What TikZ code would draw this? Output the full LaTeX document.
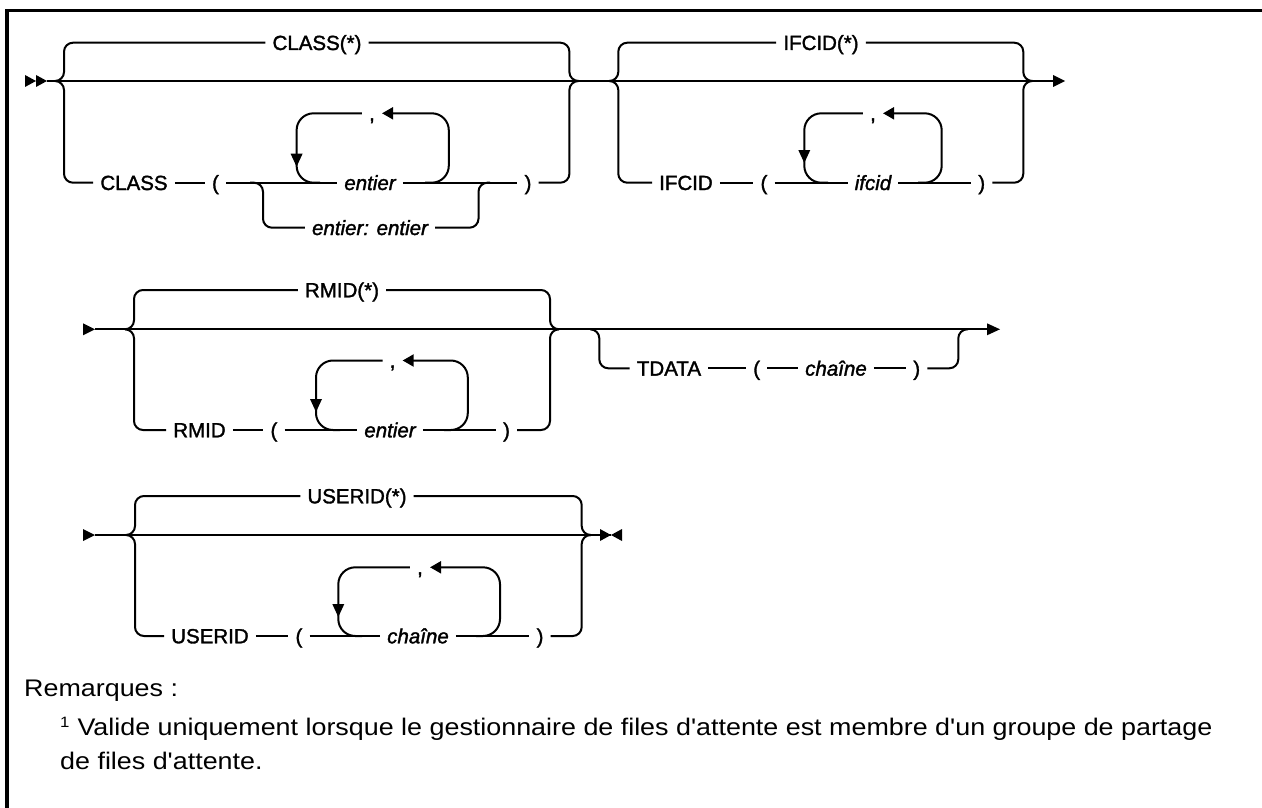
\documentclass[tikz,border=0pt]{standalone}
\usepackage{fontspec}
\setmainfont{Liberation Sans}
\newfontfamily\lblfont[FakeBold=1.6]{Liberation Sans}
\newfontfamily\notefont[FakeStretch=1.12]{Liberation Sans}
\usetikzlibrary{arrows.meta}
\begin{document}
\begin{tikzpicture}[x=1pt,y=-1pt,
  rr/.style={line width=2pt},
  br/.style={rr, rounded corners=9pt},
  lp/.style={rr, rounded corners=17pt},
  lbl/.style={font=\lblfont\fontsize{20.5}{24}\selectfont, inner xsep=7pt, inner ysep=0pt,
              text height=14.6pt, text depth=0pt, anchor=center},
  var/.style={lbl, font=\lblfont\itshape\fontsize{20.5}{24}\selectfont},
  back/.style={{Triangle[length=11pt,width=12pt]}-},
  note/.style={font=\notefont\fontsize{24}{28}\selectfont, inner sep=0pt, anchor=base west},
]
\useasboundingbox (0,0) rectangle (1262,808);
\draw[line width=3.5pt] (7,808) -- (7,10.5) -- (1262,10.5);

% ================= Row 1 =================
\coordinate (s1) at (47,81);
\coordinate (e1) at (1053,81);
\fill (25,75) -- (36,81) -- (25,87) -- cycle;
\fill (36,75) -- (47,81) -- (36,87) -- cycle;
\draw[rr] (s1) -- (e1);
\fill (e1) ++(0,-6) -- ++(12,6) -- ++(-12,6) -- cycle;

% CLASS group
\node[lbl] (clsS) at (317,42.7) {CLASS(*)};
\draw[br] (55,81) -| (64,42.7) -- (clsS.west);
\draw[br] (clsS.east) -| (569.4,81) -- (578,81);
\node[lbl] (clsK) at (134,182.7) {CLASS};
\node[lbl] (lp1) at (215.5,182.7) {(};
\node[var] (ent1) at (370,182.7) {entier};
\node[lbl] (rp1) at (528,182.7) {)};
\draw[br] (55,81) -| (64,182.7) -- (clsK.west);
\draw[rr] (clsK.east) -- (lp1.west);
\draw[rr] (lp1.east) -- (ent1.west);
\draw[rr] (ent1.east) -- (rp1.west);
\draw[br] (rp1.east) -| (569.4,81) -- (578,81);
% repeat loop
\node[lbl] (cm1) at (372,113.3) {,};
\draw[lp,back] (cm1.east) -| (448.8,182.7) -- (425,182.7);
\draw[lp] (cm1.west) -| (296.6,182.7) -- (320,182.7);
\fill (290.6,153.7) -- (302.6,153.7) -- (296.6,166.7) -- cycle;
% alternative
\node[var] (alt1) at (370,227.7) {entier: entier};
\draw[br] (250,182.7) -| (263,227.7) -- (alt1.west);
\draw[br] (alt1.east) -| (478.5,182.7) -- (490,182.7);

% IFCID group
\node[lbl] (ifS) at (821,42.7) {IFCID(*)};
\draw[br] (609,81) -| (618.3,42.7) -- (ifS.west);
\draw[br] (ifS.east) -| (1023.3,81) -- (1032,81);
\node[lbl] (ifK) at (686,182.7) {IFCID};
\node[lbl] (lp2) at (764,182.7) {(};
\node[var] (ifv) at (873,182.7) {ifcid};
\node[lbl] (rp2) at (981.7,182.7) {)};
\draw[br] (609,81) -| (618.3,182.7) -- (ifK.west);
\draw[rr] (ifK.east) -- (lp2.west);
\draw[rr] (lp2.east) -- (ifv.west);
\draw[rr] (ifv.east) -- (rp2.west);
\draw[br] (rp2.east) -| (1023.3,81) -- (1032,81);
\node[lbl] (cm2) at (873,113.3) {,};
\draw[lp,back] (cm2.east) -| (941.7,182.7) -- (918,182.7);
\draw[lp] (cm2.west) -| (804.3,182.7) -- (828,182.7);
\fill (798.3,150) -- (810.3,150) -- (804.3,163) -- cycle;

% ================= Row 2 =================
\coordinate (s2) at (95,329.3);
\coordinate (e2) at (987,329.3);
\fill (83,323.3) -- (95,329.3) -- (83,335.3) -- cycle;
\draw[rr] (s2) -- (e2);
\fill (e2) ++(0,-6) -- ++(13,6) -- ++(-13,6) -- cycle;

\node[lbl] (rmS) at (342,290) {RMID(*)};
\draw[br] (125,329.3) -| (134,290) -- (rmS.west);
\draw[br] (rmS.east) -| (550,329.3) -- (559,329.3);
\node[lbl] (rmK) at (199.5,430) {RMID};
\node[lbl] (lp3) at (274,430) {(};
\node[var] (ent3) at (390,430) {entier};
\node[lbl] (rp3) at (506.5,430) {)};
\draw[br] (125,329.3) -| (134,430) -- (rmK.west);
\draw[rr] (rmK.east) -- (lp3.west);
\draw[rr] (lp3.east) -- (ent3.west);
\draw[rr] (ent3.east) -- (rp3.west);
\draw[br] (rp3.east) -| (550,329.3) -- (559,329.3);
\node[lbl] (cm3) at (392.6,360.5) {,};
\draw[lp,back] (cm3.east) -| (467.8,430) -- (444,430);
\draw[lp] (cm3.west) -| (316,430) -- (340,430);
\fill (310,399) -- (322,399) -- (316,412) -- cycle;

% TDATA optional
\node[lbl] (td) at (669,368.3) {TDATA};
\node[lbl] (lp5) at (756.7,368.3) {(};
\node[var] (ch5) at (836,368.3) {chaîne};
\node[lbl] (rp5) at (916.7,368.3) {)};
\draw[br] (590,329.3) -| (599.3,368.3) -- (td.west);
\draw[rr] (td.east) -- (lp5.west);
\draw[rr] (lp5.east) -- (ch5.west);
\draw[rr] (ch5.east) -- (rp5.west);
\draw[br] (rp5.east) -| (958.3,329.3) -- (968,329.3);

% ================= Row 3 =================
\coordinate (s3) at (95,535);
\coordinate (e3) at (611,535);
\fill (83,529) -- (95,535) -- (83,541) -- cycle;
\draw[rr] (s3) -- (e3);
\fill (600,529) -- (611,535) -- (600,541) -- cycle;
\fill (622,529) -- (611,535) -- (622,541) -- cycle;

\node[lbl] (usS) at (357,496) {USERID(*)};
\draw[br] (126,535) -| (135,496) -- (usS.west);
\draw[br] (usS.east) -| (581.7,535) -- (590,535);
\node[lbl] (usK) at (210,636) {USERID};
\node[lbl] (lp4) at (299,636) {(};
\node[var] (ch4) at (418,636) {chaîne};
\node[lbl] (rp4) at (540,636) {)};
\draw[br] (126,535) -| (135,636) -- (usK.west);
\draw[rr] (usK.east) -- (lp4.west);
\draw[rr] (lp4.east) -- (ch4.west);
\draw[rr] (ch4.east) -- (rp4.west);
\draw[br] (rp4.east) -| (581.7,535) -- (590,535);
\node[lbl] (cm4) at (420,567.3) {,};
\draw[lp,back] (cm4.east) -| (500,636) -- (476,636);
\draw[lp] (cm4.west) -| (338.3,636) -- (362,636);
\fill (332.3,604) -- (344.3,604) -- (338.3,617) -- cycle;

% ================= Notes =================
\node[note] (rem) at (24,696) {Remarques :};
\node[note] (n1) at (60,735) {\raisebox{8pt}{\fontsize{15}{15}\selectfont 1}\hspace{8pt}Valide uniquement lorsque le gestionnaire de files d'attente est membre d'un groupe de partage};
\node[note] (n2) at (60,769) {de files d'attente.};
\end{tikzpicture}
\end{document}
